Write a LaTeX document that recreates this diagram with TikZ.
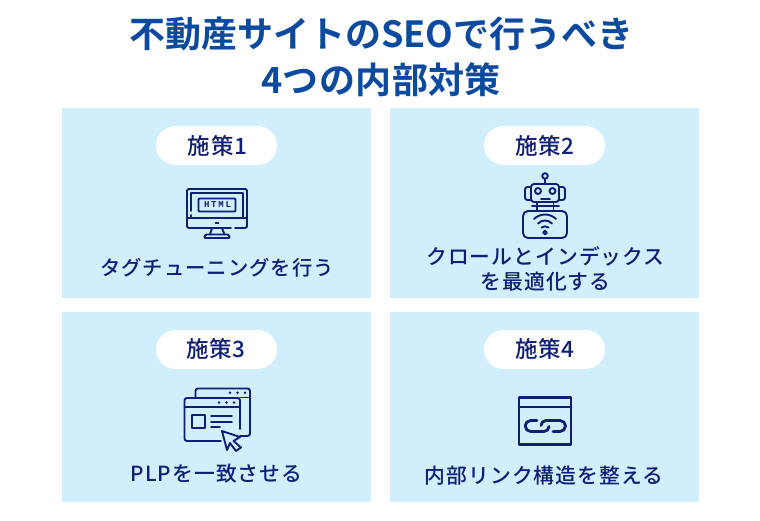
\documentclass[tikz,border=0pt]{standalone}
\usepackage{fontspec}
\setmainfont{Noto Sans CJK JP}
\newfontfamily\jpbold{Noto Sans CJK JP Bold}
\newfontfamily\jpboldw[LetterSpace=1.2]{Noto Sans CJK JP Bold}
\newfontfamily\jpmed[LetterSpace=5]{Noto Sans CJK JP Medium}
\newfontfamily\jppill[LetterSpace=3]{Noto Sans CJK JP Medium}
\newfontfamily\htmlfont[LetterSpace=20]{Liberation Mono Bold}
\definecolor{titleblue}{HTML}{0B4A9E}
\definecolor{navy}{HTML}{0F1F73}
\definecolor{cardblue}{HTML}{D0EEFC}
\tikzset{
  card/.style={fill=cardblue,draw=none},
  pillbox/.style={fill=white,draw=none,rounded corners=19.5pt},
  titletext/.style={text=titleblue,font=\fontsize{36}{42}\selectfont\jpbold,inner sep=0pt},
  titlewide/.style={text=titleblue,font=\fontsize{36}{42}\selectfont\jpboldw,inner sep=0pt},
  pilltext/.style={text=navy,font=\fontsize{22.5}{26}\selectfont\jppill,inner sep=0pt},
  labeltext/.style={text=navy,font=\fontsize{20.8}{25}\selectfont\jpmed,inner sep=0pt,align=center},
  labelsmall/.style={text=navy,font=\fontsize{20.3}{25}\selectfont\jpmed,inner sep=0pt,align=center},
  ic/.style={draw=navy,line width=1.9pt,line cap=round,line join=round},
  icthick/.style={draw=navy,line width=2.8pt,line cap=round,line join=round},
  dotfill/.style={fill=navy,draw=none}
}
\begin{document}
\begin{tikzpicture}[x=1pt,y=-1pt]
\useasboundingbox (0,0) rectangle (760,520);
\fill[white] (0,0) rectangle (760,520);
\node[titletext] (t1) at (381.5,34) {不動産サイトのSEOで行うべき};
\node[titlewide] (t2) at (381,80) {4つの内部対策};
\fill[card] (62,108) rectangle (371,298);
\fill[card] (390,108) rectangle (699,298);
\fill[card] (62,312) rectangle (371,502);
\fill[card] (390,312) rectangle (699,502);
\fill[pillbox] (156,126) rectangle (277,165);
\fill[pillbox] (484,126) rectangle (605,165);
\fill[pillbox] (156,330) rectangle (277,369);
\fill[pillbox] (484,330) rectangle (605,369);
\node[pilltext] (p1) at (217.5,146) {施策1};
\node[pilltext] (p2) at (545,146) {施策2};
\node[pilltext] (p3) at (216,349) {施策3};
\node[pilltext] (p4) at (545,349) {施策4};
\node[labelsmall] (l1) at (217,268) {タグチューニングを行う};
\node[labeltext] (l2) at (545.5,268.5) {クロールとインデックス\\を最適化する};
\node[labeltext] (l3) at (216.5,474) {PLPを一致させる};
\node[labeltext] (l4) at (544,476) {内部リンク構造を整える};
% icon 1: monitor
\draw[ic,rounded corners=1.5pt] (231,228) -- (187,228) -- (187,189) -- (247,189) -- (247,228) -- (235,228);
\draw[ic] (187,218) -- (247,218);
\draw[ic] (191,211) -- (191,193) -- (243,193) -- (243,218);
\draw[ic] (191,215) -- (191,218);
\draw[ic,rounded corners=1pt] (198.5,198.5) rectangle (235.5,211.5);
\node[text=navy,inner sep=0pt,font=\fontsize{9}{10}\selectfont\htmlfont] (h) at (217.5,205) {HTML};
\draw[ic] (215.5,222.8) -- (218.5,222.8);
\draw[ic] (212,228) -- (210,234.5) (222,228) -- (224.5,234.5);
\draw[ic,rounded corners=1pt] (204,238) -- (205.5,234.5) -- (228.5,234.5) -- (230,238) -- cycle;
% icon 2: robot
\draw[ic] (545,179) -- (545,184);
\draw[ic] (545,176) circle (2.8);
\draw[ic,rounded corners=3pt] (531,184) rectangle (559,202);
\draw[ic,rounded corners=2.5pt] (531,187) -- (525,187) -- (525,200) -- (531,200);
\draw[ic,rounded corners=2.5pt] (559,187) -- (565,187) -- (565,200) -- (559,200);
\draw[ic] (538,191) circle (3);
\draw[ic] (552.5,191) circle (3);
\draw[ic] (541,199) -- (550,199);
\draw[ic] (537,202) -- (537,210) (553.5,202) -- (553.5,210) (532,206) -- (559,206);
\draw[ic,rounded corners=5pt] (523,211) rectangle (567,238);
\draw[ic] (534,219) .. controls (540,213) and (550,213) .. (556,219);
\draw[ic] (538,223.5) .. controls (542,219.5) and (548,219.5) .. (552,223.5);
\draw[ic] (541.5,227.5) .. controls (543.5,226) and (546.5,226) .. (548.5,227.5);
\draw[ic] (545,232.5) circle (1.9);
% icon 3: windows
\draw[ic,rounded corners=2.5pt] (195.5,397) -- (195.5,388.5) -- (250,388.5) -- (250,436) -- (240,436);
\draw[ic] (240,397.5) -- (250,397.5);
\draw[ic] (240,400) -- (240,429);
\draw[ic,rounded corners=2.5pt] (221,441) -- (184.5,441) -- (184.5,398) -- (240,398) -- (240,402);
\draw[ic] (184.5,407) -- (240,407);
\draw[ic] (192,415) rectangle (205,428);
\draw[ic] (211,416) -- (232,416);
\draw[ic] (211,422) -- (232,422);
\draw[ic] (211,427) -- (220,427);
\foreach \a/\b in {230/392.8,237.5/392.8,245/392.8,219/402.5,226.5/402.5,234/402.5}
  \fill[dotfill] (\a,\b) circle (1.4);
\draw[ic,fill=cardblue] (222,431) -- (240,437) -- (233.5,441) -- (241,447.5) -- (236,451) -- (230,443) -- (227,450) -- cycle;
% icon 4: link window
\draw[icthick] (519,397.5) rectangle (571,444.5);
\draw[icthick] (519,407) -- (571,407);
\draw[icthick] (537,420.5) -- (530.7,420.5) arc[start angle=-90,end angle=-270,radius=5.5] -- (544,431.5) arc[start angle=90,end angle=0,radius=5];
\draw[icthick] (553,431.5) -- (560,431.5) arc[start angle=90,end angle=-90,radius=5.5] -- (546,420.5) arc[start angle=-90,end angle=-180,radius=5];
\end{tikzpicture}
\end{document}
